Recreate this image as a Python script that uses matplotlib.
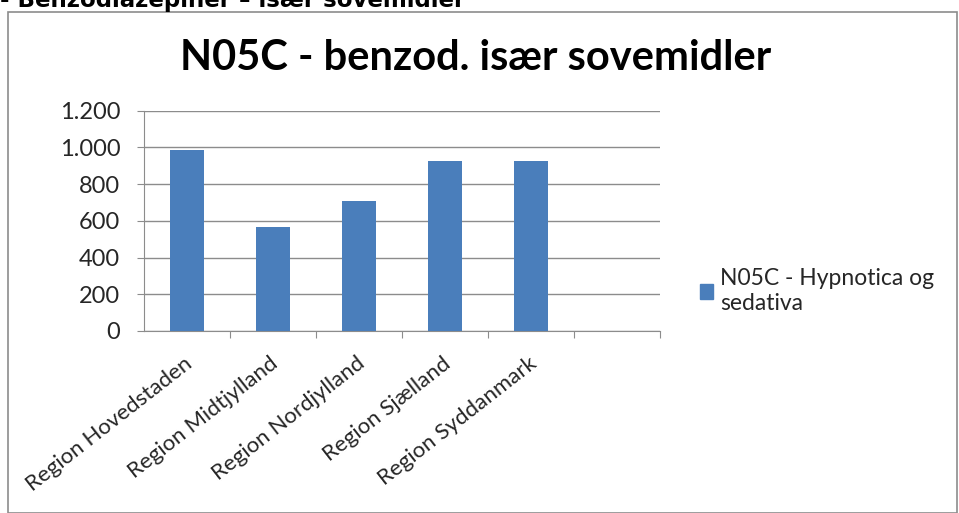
import numpy as np
import matplotlib.pyplot as plt
from matplotlib.patches import Rectangle, Patch
from matplotlib.transforms import ScaledTranslation

regions = ['Region Hovedstaden', 'Region Midtjylland', 'Region Nordjylland',
           'Region Sjælland', 'Region Syddanmark']
values = [987, 569, 709, 927, 927]
y_ticks = [0, 200, 400, 600, 800, 1000, 1200]
y_labels = ['0', '200', '400', '600', '800', '1.000', '1.200']
series_name = 'N05C - Hypnotica og\nsedativa'
title = 'N05C - benzod. især sovemidler'
header = '- Benzodiazepiner – især sovemidler'

plt.rcParams['font.family'] = ['Lato', 'DejaVu Sans']
bar_color = '#4a7ebb'
grid_color = '#8c8c8c'
text_color = '#262626'

fig = plt.figure(figsize=(9.59, 5.13), dpi=100)
ax = fig.add_axes([0.150, 0.355, 0.538, 0.429])

x = np.arange(len(regions))
ax.bar(x, values, width=0.39, color=bar_color, zorder=3)

# six slots, last one left empty like the original
ax.set_xlim(-0.5, len(regions) + 0.5)
ax.set_ylim(0, 1200)
ax.set_yticks(y_ticks)
ax.set_yticklabels(y_labels, fontsize=17, color=text_color)
ax.yaxis.grid(True, color=grid_color, linewidth=1, zorder=0)
ax.tick_params(axis='y', length=5, color=grid_color, pad=12)

ax.set_xticks(np.arange(len(regions) + 1) + 0.5, minor=False)
ax.set_xticklabels([])
ax.tick_params(axis='x', length=5, color=grid_color)
ax.set_xticks(x, minor=True)
ax.set_xticklabels(regions, minor=True, rotation=38, ha='right',
                   rotation_mode='anchor', fontsize=16, color=text_color)
ax.tick_params(axis='x', which='minor', length=0, pad=16)
shift = ScaledTranslation(-0.03, 0, fig.dpi_scale_trans)
for lbl in ax.get_xticklabels(minor=True):
    lbl.set_transform(lbl.get_transform() + shift)

for s in ['top', 'right']:
    ax.spines[s].set_visible(False)
for s in ['left', 'bottom']:
    ax.spines[s].set_color(grid_color)

fig.text(0.496, 0.887, title, ha='center', va='center', fontsize=30,
         fontweight='bold', color='#000000')

fig.legend(handles=[Patch(color=bar_color)], labels=[series_name],
           loc='upper left', bbox_to_anchor=(0.708, 0.517), frameon=False,
           fontsize=16.5, handlelength=0.6, handleheight=0.6,
           handletextpad=0.3, labelcolor=text_color, labelspacing=0.2)

# chart border and cut-off heading above it
fig.patches.append(Rectangle((0.008, 0.0), 0.99, 0.976, transform=fig.transFigure,
                             fill=False, edgecolor='#8c8c8c', linewidth=1.2))
fig.text(0.0, 0.986, header, ha='left', va='baseline', fontsize=16.5,
         fontweight='bold', family='DejaVu Sans', color='#000000')

fig.savefig('out.png', dpi=100)
